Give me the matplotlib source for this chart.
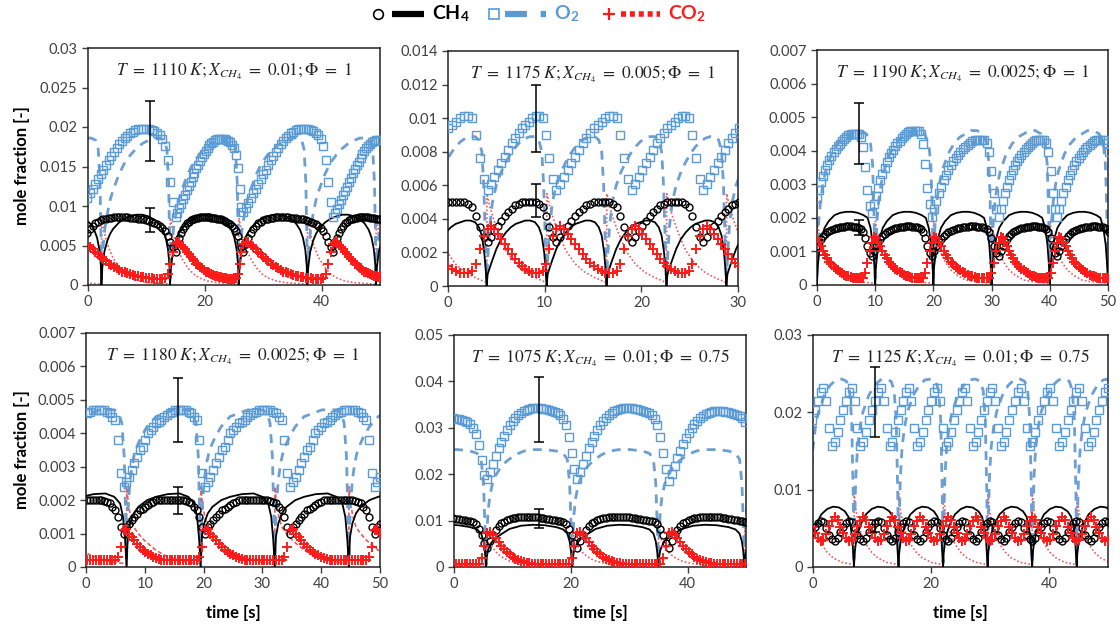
import numpy as np
import matplotlib
matplotlib.use('Agg')
import matplotlib.pyplot as plt
from matplotlib.ticker import MultipleLocator, FuncFormatter

plt.rcParams['font.family'] = ['Lato', 'DejaVu Sans']
plt.rcParams['mathtext.fontset'] = 'stix'

O2_COL = '#5b9bd5'
O2_LINE = '#6d9fd2'
CO2_COL = '#ff1a1a'
CO2_LINE = '#f0585c'
TICK_COL = '#404040'

# ---------------- panel 1 : T=1110 K, X=0.01, phi=1 ----------------
# experimental cycles (start = O2 minimum), read off the picture
p1_exp_start = [-1.5, 15.0, 26.6, 42.0]
p1_exp_period = [16.5, 11.6, 15.4, 12.0]
p1_o2_scale = [1.0, 0.935, 1.0, 0.93]
p1_o2 = [0.0092, 0.0098, 0.0104, 0.0110, 0.0116, 0.0122, 0.0128, 0.0134, 0.0140,
         0.0146, 0.0152, 0.0158, 0.0163, 0.0168, 0.0173, 0.0178, 0.0182, 0.0186,
         0.0189, 0.0192, 0.0194, 0.0196, 0.0197, 0.0197, 0.0197, 0.0197, 0.0197,
         0.0196, 0.0195, 0.0193, 0.0190, 0.0185, 0.0176, 0.0158, 0.0130, 0.0105]
p1_ch4 = [0.0042, 0.0052, 0.0060, 0.0066, 0.0071, 0.0075, 0.0078, 0.0080, 0.0082,
          0.0083, 0.0084, 0.0085, 0.0085, 0.0086, 0.0086, 0.0086, 0.0086, 0.0086,
          0.0086, 0.0085, 0.0085, 0.0085, 0.0084, 0.0084, 0.0083, 0.0082, 0.0081,
          0.0080, 0.0079, 0.0077, 0.0075, 0.0072, 0.0068, 0.0062, 0.0055, 0.0048]
p1_co2 = [0.0052, 0.0055, 0.0054, 0.0051, 0.0048, 0.0045, 0.0042, 0.0039, 0.0036,
          0.0033, 0.0030, 0.0027, 0.0025, 0.0023, 0.0021, 0.0019, 0.0017, 0.0016,
          0.0015, 0.0014, 0.0013, 0.0012, 0.0011, 0.0010, 0.0010, 0.0009, 0.0009,
          0.0009, 0.0008, 0.0008, 0.0008, 0.0008, 0.0009, 0.0014, 0.0027, 0.0042]
# model cycles (start = CH4 goes to zero)
p1_mod_zero = [-9.45, 2.3, 14.05, 25.8, 37.55, 49.3]
p1_ch4_mt = [0, 0.15, 0.5, 1.0, 1.5, 2.0, 3.0, 4.0, 5.0, 6.0, 7.0, 8.0, 9.0, 9.8, 10.5, 11.0, 11.4, 11.65, 11.75]
p1_ch4_mv = [0, 0.0022, 0.0042, 0.0056, 0.0065, 0.0071, 0.0079, 0.0084, 0.0087, 0.0089,
             0.0089, 0.0087, 0.0083, 0.0078, 0.0070, 0.0060, 0.0045, 0.0025, 0]
p1_o2_mt = [0, 0.1, 0.3, 0.6, 1.0, 1.5, 2.0, 3.0, 4.0, 5.0, 6.0, 7.0, 8.0, 9.0, 10.0, 10.8, 11.2, 11.5, 11.65, 11.75]
p1_o2_mv = [0.0008, 0.0025, 0.0050, 0.0072, 0.0090, 0.0108, 0.0120, 0.0140, 0.0155, 0.0165,
            0.0173, 0.0179, 0.0183, 0.0186, 0.0186, 0.0183, 0.0172, 0.0130, 0.0070, 0.0008]
p1_co2_mt = [0, 0.05, 0.3, 0.7, 1.2, 2.0, 3.0, 4.0, 5.0, 6.5, 8.0, 10.0, 11.75]
p1_co2_mv = [0, 0.0085, 0.0075, 0.0060, 0.0048, 0.0034, 0.0022, 0.0014, 0.0009, 0.0005, 0.0003, 0.0002, 0.0001]
p1_err = [(10.7, 0.0195, 0.0038), (10.7, 0.0082, 0.00155)]

# ---------------- panel 2 : T=1175 K, X=0.005, phi=1 ----------------
p2_exp_start = [-4.0, 4.1, 11.2, 19.0, 26.4]
p2_exp_period = [8.1, 7.1, 7.8, 7.4, 7.4]
p2_o2 = [0.0057, 0.0061, 0.0065, 0.0069, 0.0073, 0.0077, 0.0081, 0.0085, 0.0088, 0.0091,
         0.0094, 0.0096, 0.0098, 0.0100, 0.0101, 0.0101, 0.0100, 0.0090, 0.0076, 0.0064]
p2_ch4 = [0.0026, 0.0029, 0.0033, 0.0036, 0.0039, 0.0042, 0.0044, 0.0046, 0.0048, 0.0049,
          0.0050, 0.0050, 0.0050, 0.0050, 0.0050, 0.0049, 0.0047, 0.0042, 0.0035, 0.0029]
p2_co2 = [0.0034, 0.0036, 0.0034, 0.0031, 0.0028, 0.0025, 0.0022, 0.0019, 0.0016, 0.0014,
          0.0012, 0.0010, 0.0009, 0.0008, 0.0008, 0.0008, 0.0009, 0.0013, 0.0022, 0.0030]
p2_mod_zero = [-2.2, 4.0, 10.2, 16.4, 22.6, 28.8]
p2_ch4_mt = [0, 0.1, 0.5, 1.0, 1.5, 2.0, 2.5, 3.0, 3.5, 4.0, 4.5, 5.0, 5.4, 5.7, 5.95, 6.1, 6.2]
p2_ch4_mv = [0, 0.0007, 0.0014, 0.0022, 0.0028, 0.0032, 0.0035, 0.0037, 0.0038, 0.0039,
             0.0039, 0.0038, 0.0035, 0.0030, 0.0020, 0.0010, 0]
p2_o2_mt = [0, 0.1, 0.3, 0.6, 1.0, 1.5, 2.0, 2.5, 3.0, 3.5, 4.0, 4.5, 5.0, 5.4, 5.7, 5.9, 6.05, 6.2]
p2_o2_mv = [0.0002, 0.0015, 0.0035, 0.0050, 0.0060, 0.0068, 0.0074, 0.0079, 0.0083, 0.0086,
            0.0088, 0.0089, 0.0089, 0.0087, 0.0080, 0.0060, 0.0030, 0.0002]
p2_co2_mt = [0, 0.03, 0.3, 0.7, 1.2, 2.0, 3.0, 4.0, 5.0, 6.2]
p2_co2_mv = [0, 0.0055, 0.0048, 0.0040, 0.0032, 0.0021, 0.0013, 0.0008, 0.0005, 0.0002]
p2_err = [(9.07, 0.00998, 0.00199), (9.07, 0.0051, 0.00098)]

# ---------------- panel 3 : T=1190 K, X=0.0025, phi=1 ----------------
p3_exp_start = [-0.8, 9.4, 19.7, 31.2, 41.2]
p3_exp_period = [10.2, 10.3, 11.5, 10.0, 10.5]
p3_o2_scale = [0.98, 1.0, 0.94, 0.94, 0.94]
p3_o2 = [0.00214, 0.00240, 0.00265, 0.00290, 0.00312, 0.00332, 0.00350, 0.00366, 0.00380,
         0.00392, 0.00403, 0.00413, 0.00422, 0.00430, 0.00437, 0.00443, 0.00450, 0.00455,
         0.00458, 0.00460, 0.00460, 0.00460, 0.00458, 0.00450, 0.00420, 0.00360, 0.00290, 0.00240]
p3_ch4 = [0.00085, 0.00100, 0.00115, 0.00128, 0.00138, 0.00146, 0.00152, 0.00157, 0.00161,
          0.00164, 0.00167, 0.00169, 0.00171, 0.00172, 0.00173, 0.00174, 0.00175, 0.00175,
          0.00175, 0.00174, 0.00173, 0.00172, 0.00170, 0.00166, 0.00158, 0.00140, 0.00115, 0.00095]
p3_co2 = [0.00125, 0.00142, 0.00140, 0.00128, 0.00115, 0.00102, 0.00090, 0.00080, 0.00070,
          0.00062, 0.00055, 0.00049, 0.00044, 0.00039, 0.00035, 0.00031, 0.00028, 0.00026,
          0.00024, 0.00022, 0.00021, 0.00020, 0.00020, 0.00020, 0.00022, 0.00035, 0.00065, 0.00100]
p3_mod_zero = [-10.0, 0.0, 10.0, 20.0, 30.0, 40.0, 50.0]
p3_ch4_mt = [0, 0.1, 0.4, 0.8, 1.3, 2.0, 3.0, 4.0, 5.0, 6.0, 7.0, 8.0, 8.7, 9.2, 9.6, 9.85, 10.0]
p3_ch4_mv = [0, 0.0005, 0.0010, 0.0014, 0.0017, 0.0019, 0.00208, 0.00215, 0.00218, 0.00218,
             0.00215, 0.00208, 0.0020, 0.0017, 0.0012, 0.0006, 0]
p3_o2_mt = [0, 0.1, 0.3, 0.6, 1.0, 1.5, 2.5, 3.5, 4.5, 5.5, 6.5, 7.5, 8.5, 9.2, 9.55, 9.75, 9.9, 10.0]
p3_o2_mv = [0.0002, 0.0010, 0.0019, 0.0025, 0.0030, 0.0034, 0.0039, 0.0042, 0.0044, 0.0045,
            0.0046, 0.0046, 0.0045, 0.0042, 0.0036, 0.0025, 0.0012, 0.0002]
p3_co2_mt = [0, 0.03, 0.3, 0.7, 1.2, 2.0, 3.0, 4.0, 5.5, 7.0, 10.0]
p3_co2_mv = [0, 0.0019, 0.0016, 0.0013, 0.0010, 0.0007, 0.00045, 0.0003, 0.00015, 0.0001, 0.00005]
p3_err = [(7.2, 0.00452, 0.00091), (7.2, 0.00172, 0.00022)]

# ---------------- panel 4 : T=1180 K, X=0.0025, phi=1 ----------------
p4_exp_start = [-7.8, 6.4, 20.2, 34.7, 49.1]
p4_exp_period = [14.2, 13.8, 14.5, 14.4, 14.2]
p4_o2 = [0.0024, 0.00255, 0.0027, 0.0029, 0.0031, 0.0033, 0.0035, 0.0036, 0.0038, 0.0040,
         0.0041, 0.0042, 0.0043, 0.00435, 0.0044, 0.0045, 0.00455, 0.0046, 0.00465, 0.0047,
         0.0047, 0.0047, 0.0047, 0.0047, 0.00465, 0.0046, 0.0045, 0.0044, 0.0038, 0.0028]
p4_ch4 = [0.0010, 0.0012, 0.0013, 0.0014, 0.0015, 0.0016, 0.0017, 0.00175, 0.0018, 0.00185,
          0.0019, 0.00195, 0.0020, 0.0020, 0.0020, 0.0020, 0.0020, 0.0020, 0.0020, 0.0020,
          0.0020, 0.0020, 0.0020, 0.00198, 0.00195, 0.0019, 0.0018, 0.0017, 0.0015, 0.0012]
p4_co2 = [0.0011, 0.00115, 0.0010, 0.0009, 0.0008, 0.0007, 0.0006, 0.0005, 0.00045, 0.0004,
          0.00035, 0.0003, 0.00028, 0.00025, 0.00022, 0.0002, 0.0002, 0.0002, 0.0002, 0.0002,
          0.0002, 0.0002, 0.0002, 0.0002, 0.0002, 0.0002, 0.0002, 0.0002, 0.0003, 0.0006]
p4_mod_zero = [-5.7, 6.9, 19.5, 32.1, 44.7]
p4_ch4_mt = [0, 0.2, 0.6, 1.2, 2.0, 3.5, 5.0, 7.0, 9.0, 10.5, 11.5, 12.0, 12.35, 12.6]
p4_ch4_mv = [0, 0.0009, 0.0013, 0.0016, 0.0018, 0.0020, 0.0021, 0.00218, 0.0022, 0.0021,
             0.0019, 0.0015, 0.0008, 0]
p4_o2_mt = [0, 0.1, 0.3, 0.6, 1.0, 1.5, 2.5, 3.5, 5.0, 6.5, 8.0, 9.5, 10.5, 11.3, 11.8, 12.2, 12.45, 12.6]
p4_o2_mv = [0.0002, 0.0010, 0.0019, 0.0026, 0.0031, 0.0035, 0.0039, 0.0042, 0.0045, 0.0046,
            0.0047, 0.0047, 0.0047, 0.0046, 0.0043, 0.0033, 0.0015, 0.0002]
p4_co2_mt = [0, 0.03, 0.3, 0.7, 1.2, 2.0, 3.0, 4.0, 5.0, 6.5, 8.0, 10.0, 12.6]
p4_co2_mv = [0, 0.0024, 0.0019, 0.0015, 0.0012, 0.0010, 0.0008, 0.00065, 0.0005, 0.00035,
             0.00025, 0.00015, 0.0001]
p4_err = [(15.7, 0.0047, 0.00095), (15.7, 0.00198, 0.0004)]

# ---------------- panel 5 : T=1075 K, X=0.01, phi=0.75 ----------------
p5_exp_start = [-9.8, 5.7, 21.1, 36.8]
p5_exp_period = [15.5, 15.4, 15.7, 15.5]
p5_o2_scale = [0.94, 1.0, 1.0, 0.98]
p5_o2 = [0.0190, 0.0205, 0.0222, 0.0240, 0.0256, 0.0270, 0.0283, 0.0295, 0.0305, 0.0314,
         0.0321, 0.0327, 0.0332, 0.0336, 0.0339, 0.0341, 0.0342, 0.0342, 0.0342, 0.0342,
         0.0341, 0.0340, 0.0339, 0.0337, 0.0335, 0.0332, 0.0327, 0.0318, 0.0305, 0.0280,
         0.0245, 0.0212]
p5_ch4 = [0.0040, 0.0055, 0.0068, 0.0080, 0.0088, 0.0094, 0.0098, 0.0101, 0.0103, 0.0105,
          0.0106, 0.0107, 0.0108, 0.0108, 0.0108, 0.0108, 0.0108, 0.0107, 0.0107, 0.0106,
          0.0105, 0.0104, 0.0103, 0.0102, 0.0101, 0.0100, 0.0099, 0.0097, 0.0092, 0.0082,
          0.0068, 0.0052]
p5_co2 = [0.0074, 0.0076, 0.0070, 0.0062, 0.0054, 0.0046, 0.0039, 0.0032, 0.0027, 0.0022,
          0.0018, 0.0015, 0.0012, 0.0010, 0.0009, 0.0008, 0.0007, 0.0007, 0.0007, 0.0007,
          0.0007, 0.0007, 0.0007, 0.0007, 0.0007, 0.0007, 0.0007, 0.0007, 0.0007, 0.0007,
          0.0020, 0.0045]
p5_mod_zero = [-9.25, 5.5, 20.25, 35.0, 49.75]
p5_ch4_mt = [0, 0.1, 0.3, 0.6, 1.0, 1.5, 2.5, 4.0, 6.0, 8.0, 10.0, 12.0, 13.2, 13.9, 14.3, 14.55, 14.75]
p5_ch4_mv = [0, 0.0020, 0.0035, 0.0045, 0.0054, 0.0061, 0.0070, 0.0082, 0.0089, 0.0091,
             0.0090, 0.0086, 0.0081, 0.0072, 0.0055, 0.0032, 0]
p5_o2_mt = [0, 0.1, 0.3, 0.6, 1.0, 1.5, 2.5, 3.5, 5.0, 6.5, 8.0, 10.0, 12.0, 13.2, 13.9, 14.3, 14.55, 14.75]
p5_o2_mv = [0.0005, 0.0060, 0.0115, 0.0150, 0.0175, 0.0195, 0.0215, 0.0228, 0.0242, 0.0250,
            0.0253, 0.0253, 0.0250, 0.0245, 0.0232, 0.0180, 0.0090, 0.0005]
p5_co2_mt = [0, 0.03, 0.3, 0.7, 1.2, 2.0, 3.0, 4.0, 5.5, 7.5, 10.0, 14.75]
p5_co2_mv = [0, 0.0080, 0.0065, 0.0052, 0.0040, 0.0028, 0.0019, 0.0013, 0.0008, 0.0004, 0.0002, 0.0001]
p5_err = [(14.5, 0.034, 0.007), (14.5, 0.0105, 0.0021)]

# ---------------- panel 6 : T=1125 K, X=0.01, phi=0.75 ----------------
p6_exp_start = [-1.6, 3.2, 8.0, 13.0, 17.6, 22.5, 27.1, 31.8, 36.7, 41.7, 46.6]
p6_exp_period = [4.8, 4.8, 5.0, 4.6, 4.9, 4.6, 4.7, 4.9, 5.0, 4.9, 4.8]
p6_o2 = [0.0156, 0.0162, 0.0175, 0.0190, 0.0203, 0.0215, 0.0226, 0.0232, 0.0215, 0.0180]
p6_ch4 = [0.0036, 0.0033, 0.0037, 0.0045, 0.0052, 0.0057, 0.0060, 0.0058, 0.0050, 0.0042]
p6_co2 = [0.0060, 0.0065, 0.0061, 0.0052, 0.0044, 0.0037, 0.0033, 0.0035, 0.0043, 0.0053]
p6_mod_zero = [-0.6, 6.95, 14.5, 22.05, 29.6, 37.15, 44.7]
p6_ch4_mt = [0, 0.1, 0.3, 0.7, 1.2, 2.0, 3.0, 4.0, 5.0, 6.0, 6.6, 7.0, 7.3, 7.55]
p6_ch4_mv = [0, 0.0018, 0.0030, 0.0045, 0.0056, 0.0068, 0.0075, 0.0078, 0.0077, 0.0072,
             0.0065, 0.0052, 0.0032, 0]
p6_o2_mt = [0, 0.1, 0.3, 0.6, 1.0, 1.5, 2.5, 3.5, 4.5, 5.5, 6.3, 6.8, 7.15, 7.4, 7.55]
p6_o2_mv = [0.0005, 0.0060, 0.0115, 0.0155, 0.0180, 0.0200, 0.0222, 0.0235, 0.0242, 0.0243,
            0.0240, 0.0228, 0.0190, 0.0100, 0.0005]
p6_co2_mt = [0, 0.03, 0.3, 0.7, 1.2, 2.0, 3.0, 4.0, 5.5, 7.55]
p6_co2_mv = [0, 0.0095, 0.0075, 0.0058, 0.0044, 0.0030, 0.0019, 0.0012, 0.0006, 0.0003]
p6_err = [(10.5, 0.0213, 0.0045), (10.5, 0.0053, 0.0008)]

titles = [r'$T\ =\ 1110\ K; X_{CH_4}\ =\ 0.01; \Phi\ =\ 1$',
          r'$T\ =\ 1175\ K; X_{CH_4}\ =\ 0.005; \Phi\ =\ 1$',
          r'$T\ =\ 1190\ K; X_{CH_4}\ =\ 0.0025; \Phi\ =\ 1$',
          r'$T\ =\ 1180\ K; X_{CH_4}\ =\ 0.0025; \Phi\ =\ 1$',
          r'$T\ =\ 1075\ K; X_{CH_4}\ =\ 0.01; \Phi\ =\ 0.75$',
          r'$T\ =\ 1125\ K; X_{CH_4}\ =\ 0.01; \Phi\ =\ 0.75$']
x_max = [50, 30, 50, 50, 50, 50]
x_step = [20, 10, 10, 10, 20, 20]
y_max = [0.03, 0.014, 0.007, 0.007, 0.05, 0.03]
y_step = [0.005, 0.002, 0.001, 0.001, 0.01, 0.01]


def exp_series(starts, periods, profile, scale=None):
    t, v = [], []
    n = len(profile)
    for i, (s, p) in enumerate(zip(starts, periods)):
        k = 1.0 if scale is None else scale[i]
        t += [s + p * j / n for j in range(n)]
        v += [y * k for y in profile]
    return np.array(t), np.array(v)


def model_series(zeros, tm, vm):
    t, v = [], []
    for z in zeros:
        t += [z + x for x in tm]
        v += list(vm)
    return np.array(t), np.array(v)


panels = [
    dict(start=p1_exp_start, period=p1_exp_period, o2s=p1_o2_scale, o2=p1_o2, ch4=p1_ch4, co2=p1_co2,
         zero=p1_mod_zero, m=[(p1_ch4_mt, p1_ch4_mv), (p1_o2_mt, p1_o2_mv), (p1_co2_mt, p1_co2_mv)], err=p1_err),
    dict(start=p2_exp_start, period=p2_exp_period, o2s=None, o2=p2_o2, ch4=p2_ch4, co2=p2_co2,
         zero=p2_mod_zero, m=[(p2_ch4_mt, p2_ch4_mv), (p2_o2_mt, p2_o2_mv), (p2_co2_mt, p2_co2_mv)], err=p2_err),
    dict(start=p3_exp_start, period=p3_exp_period, o2s=p3_o2_scale, o2=p3_o2, ch4=p3_ch4, co2=p3_co2,
         zero=p3_mod_zero, m=[(p3_ch4_mt, p3_ch4_mv), (p3_o2_mt, p3_o2_mv), (p3_co2_mt, p3_co2_mv)], err=p3_err),
    dict(start=p4_exp_start, period=p4_exp_period, o2s=None, o2=p4_o2, ch4=p4_ch4, co2=p4_co2,
         zero=p4_mod_zero, m=[(p4_ch4_mt, p4_ch4_mv), (p4_o2_mt, p4_o2_mv), (p4_co2_mt, p4_co2_mv)], err=p4_err),
    dict(start=p5_exp_start, period=p5_exp_period, o2s=p5_o2_scale, o2=p5_o2, ch4=p5_ch4, co2=p5_co2,
         zero=p5_mod_zero, m=[(p5_ch4_mt, p5_ch4_mv), (p5_o2_mt, p5_o2_mv), (p5_co2_mt, p5_co2_mv)], err=p5_err),
    dict(start=p6_exp_start, period=p6_exp_period, o2s=None, o2=p6_o2, ch4=p6_ch4, co2=p6_co2,
         zero=p6_mod_zero, m=[(p6_ch4_mt, p6_ch4_mv), (p6_o2_mt, p6_o2_mv), (p6_co2_mt, p6_co2_mv)], err=p6_err),
]

# axes boxes in pixels (left, top, right, bottom) measured on the 1120x634 picture
boxes = [(88, 48, 380, 285), (448, 51, 738, 286), (817, 50, 1108, 285),
         (86, 333, 380, 567), (454, 335, 746, 567), (813, 335, 1108, 567)]

W, H = 1120, 634
fig = plt.figure(figsize=(W / 100, H / 100), dpi=100)

fmt = FuncFormatter(lambda v, pos: '0' if abs(v) < 1e-12 else f'{v:g}')

for i, pn in enumerate(panels):
    l, t, r, b = boxes[i]
    ax = fig.add_axes([l / W, 1 - b / H, (r - l) / W, (b - t) / H])
    xm = x_max[i]

    # model curves
    tc, vc = model_series(pn['zero'], *pn['m'][0])
    to, vo = model_series(pn['zero'], *pn['m'][1])
    tq, vq = model_series(pn['zero'], *pn['m'][2])
    co2_ls = (0, (2.5, 1.5)) if i == 3 else (0, (1, 1.3))
    ax.plot(tq, vq, color=CO2_LINE, lw=1.2, ls=co2_ls, zorder=2)
    ax.plot(to, vo, color=O2_LINE, lw=2.0, ls=(0, (3.2, 2.6)), zorder=2)
    ax.plot(tc, vc, color='black', lw=1.3, zorder=3)

    # experimental points
    for key, sc, kw in [('o2', pn['o2s'], dict(marker='s', mfc='none', mec=O2_COL, ms=5.5, mew=1.0)),
                        ('ch4', None, dict(marker='o', mfc='none', mec='black', ms=5, mew=1.0)),
                        ('co2', None, dict(marker='+', color=CO2_COL, ms=7, mew=1.4))]:
        te, ve = exp_series(pn['start'], pn['period'], pn[key], sc)
        keep = (te >= -0.2) & (te <= xm + 0.2)
        ax.plot(te[keep], ve[keep], ls='none', zorder=4, **kw)

    for (xe, ye, de) in pn['err']:
        ax.errorbar([xe], [ye], yerr=[de], fmt='none', ecolor='black', elinewidth=1.1,
                    capsize=3.5, capthick=1.1, zorder=5)

    ax.set_xlim(0, xm)
    ax.set_ylim(0, y_max[i])
    ax.xaxis.set_major_locator(MultipleLocator(x_step[i]))
    ax.yaxis.set_major_locator(MultipleLocator(y_step[i]))
    ax.yaxis.set_major_formatter(fmt)
    ax.tick_params(direction='out', length=4, width=1, colors=TICK_COL, labelsize=10.5,
                   top=False, right=False)
    for sp in ax.spines.values():
        sp.set_color('#222222')
        sp.set_linewidth(1.1)
    ax.text(0.5, 0.9, titles[i], transform=ax.transAxes, ha='center', va='center',
            fontsize=12.5, color='#222222', zorder=6)

# axis titles
fig.text(22 / W, 1 - 166 / H, 'mole fraction [-]', rotation=90, ha='center', va='center',
         fontsize=12, fontweight='bold')
fig.text(22 / W, 1 - 450 / H, 'mole fraction [-]', rotation=90, ha='center', va='center',
         fontsize=12, fontweight='bold')
for (l, t, r, b) in boxes[3:]:
    fig.text((l + r) / 2 / W, 1 - 613 / H, 'time [s]', ha='center', va='center',
             fontsize=12, fontweight='bold')

# legend drawn at the top, in pixel coordinates
lg = fig.add_axes([0, 0, 1, 1], zorder=-1)
lg.set_xlim(0, W)
lg.set_ylim(H, 0)
lg.axis('off')
ly = 14
lg.plot([378], [ly], marker='o', mfc='none', mec='black', ms=7, mew=1.2)
lg.plot([392, 424], [ly, ly], color='black', lw=4.5, solid_capstyle='butt')
lg.text(432, ly, r'CH$_\mathregular{4}$', color='black', fontsize=14, fontweight='bold', va='center')
lg.plot([494], [ly], marker='s', mfc='none', mec=O2_COL, ms=7, mew=1.2)
lg.plot([505, 546], [ly, ly], color=O2_COL, lw=4.5, ls=(0, (3.5, 2.2)), solid_capstyle='butt')
lg.text(554, ly, r'O$_\mathregular{2}$', color=O2_COL, fontsize=14, fontweight='bold', va='center')
lg.plot([609], [ly], marker='+', color=CO2_COL, ms=9, mew=1.6)
lg.plot([621, 660], [ly, ly], color=CO2_COL, lw=4, ls=(0, (0.9, 0.7)))
lg.text(668, ly, r'CO$_\mathregular{2}$', color=CO2_COL, fontsize=14, fontweight='bold', va='center')

fig.savefig('out.png', dpi=100)
